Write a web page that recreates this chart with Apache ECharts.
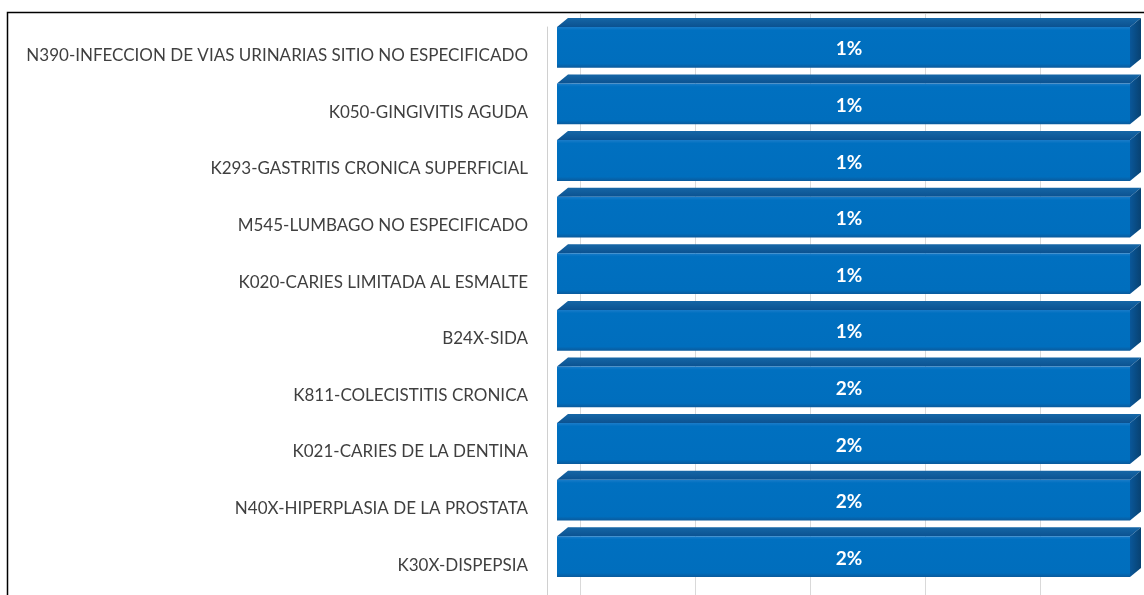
<!DOCTYPE html>
<html>
<head>
<meta charset="utf-8">
<script src="https://cdn.jsdelivr.net/npm/echarts@6/dist/echarts.min.js"></script>
<style>
html, body { margin: 0; padding: 0; background: #fff; }
#chart { width: 1144px; height: 595px; }
</style>
</head>
<body>
<div id="chart"></div>
<script>
// diagnosticos, de arriba hacia abajo
var categories = [
	'N390-INFECCION DE VIAS URINARIAS SITIO NO ESPECIFICADO',
	'K050-GINGIVITIS AGUDA',
	'K293-GASTRITIS CRONICA SUPERFICIAL',
	'M545-LUMBAGO NO ESPECIFICADO',
	'K020-CARIES LIMITADA AL ESMALTE',
	'B24X-SIDA',
	'K811-COLECISTITIS CRONICA',
	'K021-CARIES DE LA DENTINA',
	'N40X-HIPERPLASIA DE LA PROSTATA',
	'K30X-DISPEPSIA'
];
// porcentaje (%) como aparece en las etiquetas
var shares = [1, 1, 1, 1, 1, 1, 2, 2, 2, 2];
// lineas de fondo (pared posterior)
var wallTicks = [0, 4];

var myChart = echarts.init(document.getElementById('chart'));

var DX = 11, DY = 9;

function renderBar(params, api) {
	var cat = api.value(1);
	var val = api.value(0);
	var cs = params.coordSys;
	var start = api.coord([0, cat]);
	var end = api.coord([val, cat]);
	var band = api.size([0, 1])[1];
	var h = band * 0.72;
	var x0 = start[0];
	var x1 = Math.min(end[0], cs.x + cs.width);
	var y0 = start[1] - h / 2;
	var y1 = start[1] + h / 2;
	return {
		type : 'group',
		children : [ {
			// sombra gris sobre la pared
			type : 'polygon',
			shape : { points : [ [ x0 + 1, y0 ], [ x0 + DX, y0 - DY ], [ x0 + DX + 9, y0 - DY ], [ x0 + DX + 9, y0 - DY + 4 ], [ x0 + 6, y0 + 8 ] ] },
			style : {
				fill : new echarts.graphic.LinearGradient(0, 0, 1, 0, [
					{ offset : 0, color : 'rgba(120,120,120,0.55)' },
					{ offset : 1, color : 'rgba(200,200,200,0.1)' }
				])
			}
		}, {
			type : 'polygon',
			shape : { points : [ [ x0, y0 ], [ x0 + DX, y0 - DY ], [ x1 + DX, y0 - DY ], [ x1, y0 ] ] },
			style : {
				fill : new echarts.graphic.LinearGradient(0, 0, 0, 1, [
					{ offset : 0, color : '#1566a6' },
					{ offset : 1, color : '#0b5291' }
				])
			}
		}, {
			type : 'polygon',
			shape : { points : [ [ x1, y0 ], [ x1 + DX, y0 - DY ], [ x1 + DX, y1 - DY ], [ x1, y1 ] ] },
			style : {
				fill : new echarts.graphic.LinearGradient(0, 0, 1, 0, [
					{ offset : 0, color : '#0a5799' },
					{ offset : 1, color : '#084272' }
				])
			}
		}, {
			type : 'rect',
			shape : { x : x0, y : y0, width : x1 - x0, height : y1 - y0 },
			style : {
				fill : new echarts.graphic.LinearGradient(0, 0, 0, 1, [
					{ offset : 0, color : '#1a7cc9' },
					{ offset : 0.08, color : '#0070c0' },
					{ offset : 0.9, color : '#006ebd' },
					{ offset : 1, color : '#0a5a9c' }
				])
			}
		}, {
			type : 'text',
			x : (x0 + x1 + DX) / 2,
			y : (y0 + y1) / 2 + 2,
			style : {
				text : val + '%',
				fill : '#ffffff',
				font : 'bold 19px Lato',
				align : 'center',
				verticalAlign : 'middle'
			}
		} ]
	};
}

var option = {
	backgroundColor : '#ffffff',
	animation : false,
	graphic : [ {
		type : 'polyline',
		shape : { points : [ [ 7.5, 595 ], [ 7.5, 12.5 ], [ 1144, 12.5 ] ] },
		style : { stroke : '#000', lineWidth : 1.5, fill : null },
		z : 10
	} ],
	grid : [ {
		left : 557,
		right : 14,
		top : 19,
		bottom : 10
	}, {
		left : 580,
		right : 104,
		top : 14,
		bottom : 0
	}, {
		left : 547,
		right : 14,
		top : 27,
		bottom : 0
	} ],
	xAxis : [ {
		type : 'value',
		gridIndex : 0,
		min : 0,
		max : 1,
		show : false
	}, {
		type : 'value',
		gridIndex : 1,
		min : wallTicks[0],
		max : wallTicks[1],
		interval : 1,
		axisLine : { show : false },
		axisTick : { show : false },
		axisLabel : { show : false },
		splitLine : { show : true, lineStyle : { color : '#d9d9d9', width : 1 } }
	}, {
		type : 'value',
		gridIndex : 2,
		min : 0,
		max : 1,
		show : false
	} ],
	yAxis : [ {
		type : 'category',
		gridIndex : 0,
		data : categories,
		inverse : true,
		offset : 10,
		axisLine : { show : false },
		axisTick : { show : false },
		axisLabel : {
			margin : 19,
			color : '#3f3f3f',
			fontSize : 17,
			fontFamily : 'Lato',
			verticalAlign : 'top'
		},
		splitLine : { show : false }
	}, {
		type : 'value',
		gridIndex : 1,
		min : 0,
		max : 1,
		show : false
	}, {
		// eje vertical gris
		type : 'value',
		gridIndex : 2,
		min : 0,
		max : 1,
		axisLine : { show : true, onZero : false, lineStyle : { color : '#d0d0d0' } },
		axisTick : { show : false },
		axisLabel : { show : false },
		splitLine : { show : false }
	} ],
	series : [ {
		type : 'custom',
		xAxisIndex : 0,
		yAxisIndex : 0,
		renderItem : renderBar,
		encode : { x : 0, y : 1 },
		data : shares.map(function(v, i) {
			return [ v, i ];
		}),
		z : 5
	} ]
};
myChart.setOption(option);
</script>
</body>
</html>
